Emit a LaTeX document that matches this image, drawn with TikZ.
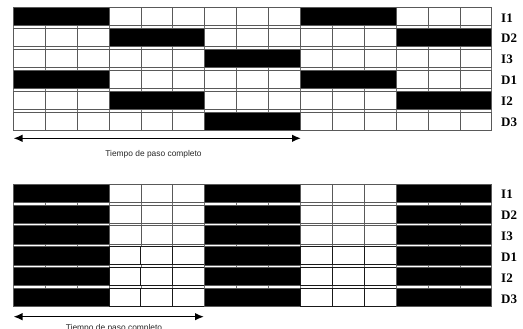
\documentclass[tikz,border=0pt]{standalone}
\usepackage{fontspec}
\setmainfont{Liberation Serif}
\newfontfamily\arialfont{Liberation Sans}
\usetikzlibrary{arrows.meta}
\begin{document}
\begin{tikzpicture}[x=1pt,y=-1pt,
  cellw/.style={draw=black!65, line width=0.7pt, fill=white},
  cellwd/.style={draw=black!90, line width=0.9pt, fill=white},
  cellb/.style={draw=black!65, line width=0.7pt, fill=black},
  vline/.style={draw=black!55, line width=0.7pt},
  lab/.style={font=\bfseries\fontsize{13}{13}\selectfont, anchor=west, inner sep=0pt},
  captext/.style={font=\arialfont\fontsize{8.4}{9}\selectfont, text=black!85, inner sep=0pt},
  timearrow/.style={{Latex[length=9pt,width=7.5pt]}-{Latex[length=9pt,width=7.5pt]}, line width=1.4pt}
]
\useasboundingbox (0,0) rectangle (523,329);
\def\xo{13.3}
\def\cw{31.9}
\def\rh{18.2}
\def\rp{20.9}
% ---------- grids ----------
\foreach \gy/\gid in {7.5/t,184/b}{
  % vertical lines through the whole grid
  \foreach \k in {0,...,15}{
    \draw[vline] ({\xo+\cw*\k},\gy) -- ({\xo+\cw*\k},{\gy+5*\rp+\rh});
  }
}
% top grid rows
\foreach \r/\pat in {0/{1,0,0,1,0},1/{0,1,0,0,1},2/{0,0,1,0,0},3/{1,0,0,1,0},4/{0,1,0,0,1},5/{0,0,1,0,0}}{
  \pgfmathsetmacro\yt{7.5+\r*\rp}
  \foreach \g [count=\gi from 0] in \pat {
    \ifnum\g=1
      \draw[cellb] ({\xo+\cw*3*\gi},\yt) rectangle ({\xo+\cw*(3*\gi+3)},{\yt+\rh});
    \else
      \foreach \c in {0,1,2}{
        \draw[cellw] ({\xo+\cw*(3*\gi+\c)},\yt) rectangle ({\xo+\cw*(3*\gi+\c+1)},{\yt+\rh});
      }
    \fi
  }
}
% bottom grid rows
\foreach \r/\sty in {0/cellw,1/cellw,2/cellw,3/cellwd,4/cellwd,5/cellwd}{
  \pgfmathsetmacro\yt{184+\r*\rp}
  \foreach \g/\gi in {1/0,0/1,1/2,0/3,1/4}{
    \ifnum\g=1
      \draw[cellb] ({\xo+\cw*3*\gi},\yt) rectangle ({\xo+\cw*(3*\gi+3)},{\yt+\rh});
    \else
      \foreach \c in {0,1,2}{
        \draw[\sty] ({\xo+\cw*(3*\gi+\c)},\yt) rectangle ({\xo+\cw*(3*\gi+\c+1)},{\yt+\rh});
      }
    \fi
  }
}
% ---------- labels ----------
\foreach \t [count=\i from 0] in {I1,D2,I3,D1,I2,D3}{
  \node[lab] (lt\i) at (501,{7.5+\i*\rp+\rh/2+1.2}) {\t};
  \node[lab] (lb\i) at (501,{184+\i*\rp+\rh/2+1.5}) {\t};
}
% ---------- arrows ----------
\coordinate (a1l) at (13.5,138.3);
\coordinate (a1r) at (301,138.3);
\draw[timearrow] (a1l) -- (a1r);
\node[captext] (c1) at (153.5,154.5) {Tiempo de paso completo};
\coordinate (a2l) at (13.5,316.7);
\coordinate (a2r) at (204,316.7);
\draw[timearrow] (a2l) -- (a2r);
\node[captext] (c2) at (114,328.5) {Tiempo de paso completo};
\end{tikzpicture}
\end{document}
